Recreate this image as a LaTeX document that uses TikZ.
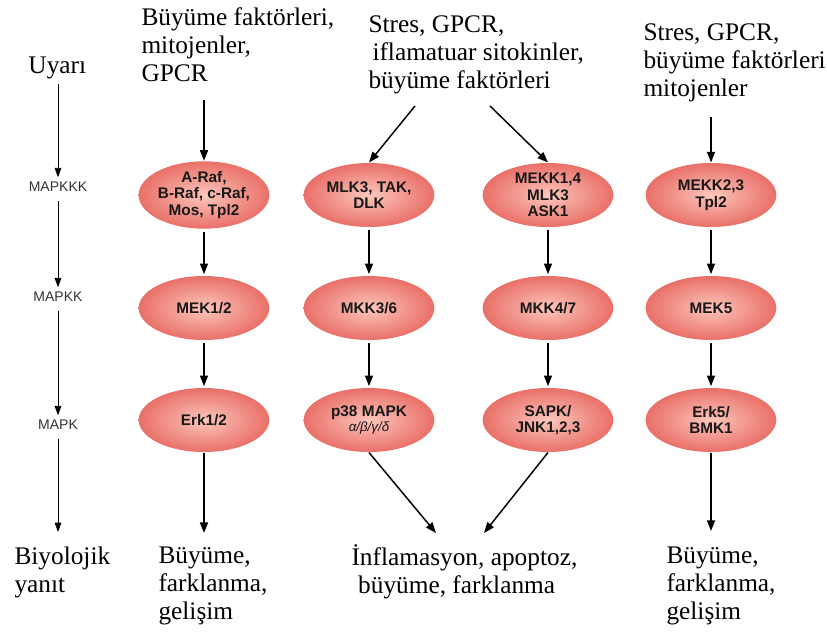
\documentclass[tikz,border=0pt]{standalone}
\usepackage{fontspec}
\setmainfont{Liberation Serif}
\setsansfont{Liberation Sans}
\usetikzlibrary{shapes.geometric,arrows.meta}

\definecolor{kinaseIn}{RGB}{252,198,188}
\definecolor{kinaseOut}{RGB}{233,112,104}

\tikzset{every picture/.style={line width=0.75pt}}
\tikzset{
  kinase/.style={ellipse, draw=none, inner color=kinaseIn, outer color=kinaseOut,
    minimum width=98pt, minimum height=48pt, inner sep=0pt, align=center,
    font=\sffamily\bfseries\fontsize{11.5}{12.5}\selectfont, text=black!90},
  level/.style={font=\sffamily\fontsize{10.5}{12}\selectfont, text=black!80},
  txt/.style={anchor=north west, inner sep=0.75pt, align=left,
    font=\fontsize{19}{21}\selectfont},
  thinarr/.style={-{Triangle[length=7pt,width=5pt]}, line width=0.6pt},
  arr/.style={-{Triangle[length=8pt,width=6pt]}, line width=1.1pt}
}

\begin{document}
\begin{tikzpicture}[x=0.75pt,y=0.75pt,yscale=-1,xscale=1]
    \path[use as bounding box] (0,0) rectangle (827,639);

    % Left column: levels
    \draw (27,55) node [txt] (uyari) {Uyarı};
    \draw (58,187) node [level] (mapkkk) {MAPKKK};
    \draw (58,297) node [level] (mapkk) {MAPKK};
    \draw (58,425) node [level] (mapk) {MAPK};
    \draw (13,545) node [txt] (yanit) {Biyolojik\\yanıt};
    \coordinate (lvlEnd) at (58,532);
    \draw [thinarr] (uyari.south -| mapkkk.north) ++(0,4) -- (mapkkk.north);
    \draw [thinarr] (mapkkk.south) ++(0,4) -- (mapkk.north);
    \draw [thinarr] (mapkk.south) ++(0,4) -- (mapk.north);
    \draw [thinarr] (mapk.south) ++(0,4) -- (lvlEnd);

    % Stimuli
    \draw (140,6) node [txt] (stimA) {Büyüme faktörleri,\\mitojenler,\\GPCR};
    \draw (367,14) node [txt] (stimB) {Stres, GPCR,\\\hspace{3pt}iflamatuar sitokinler,\\büyüme faktörleri};
    \draw (642,22) node [txt] (stimC) {Stres, GPCR,\\büyüme faktörleri\\mitojenler};

    % MAPKKK row
    \draw (204,195) node [kinase] (raf) {A-Raf,\\B-Raf, c-Raf,\\Mos, Tpl2};
    \draw (369,195) node [kinase] (mlk) {MLK3, TAK,\\DLK};
    \draw (548,195) node [kinase] (mekk14) {MEKK1,4\\MLK3\\ASK1};
    \draw (711,195) node [kinase] (mekk23) {MEKK2,3\\Tpl2};

    % MAPKK row
    \draw (204,308) node [kinase] (mek12) {MEK1/2};
    \draw (369,308) node [kinase] (mkk36) {MKK3/6};
    \draw (548,308) node [kinase] (mkk47) {MKK4/7};
    \draw (711,308) node [kinase] (mek5) {MEK5};

    % MAPK row
    \draw (204,420) node [kinase] (erk12) {Erk1/2};
    \draw (369,420) node [kinase] (p38) {p38 MAPK\\[-1pt]{\mdseries\itshape\fontsize{10}{11}\selectfont α/β/γ/δ}};
    \draw (548,420) node [kinase] (sapk) {SAPK/\\JNK1,2,3};
    \draw (711,420) node [kinase] (erk5) {Erk5/\\BMK1};

    % Responses
    \draw (157,545) node [txt] (respA) {Büyüme,\\farklanma,\\gelişim};
    \draw (350,543) node [txt] (respB) {İnflamasyon, apoptoz,\\\hspace{5pt}büyüme, farklanma};
    \draw (665,545) node [txt] (respC) {Büyüme,\\farklanma,\\gelişim};

    % Stimulus arrows
    \coordinate (sA) at (204,100);
    \coordinate (sB1) at (415,106);
    \coordinate (sB2) at (490,106);
    \coordinate (sC) at (711,117);
    \draw [arr] (sA) -- (raf.north);
    \draw [arr] (sB1) -- (mlk.north);
    \draw [arr] (sB2) -- (mekk14.north);
    \draw [arr] (sC) -- (mekk23.north);

    % Cascade arrows
    \foreach \a/\b in {raf/mek12,mlk/mkk36,mekk14/mkk47,mekk23/mek5,
                       mek12/erk12,mkk36/p38,mkk47/sapk,mek5/erk5}
      \draw [arr, shorten <=2pt, shorten >=1pt] (\a.south) -- (\b.north);

    % Response arrows
    \coordinate (eA) at (204,533);
    \coordinate (eB1) at (436,533);
    \coordinate (eB2) at (484,533);
    \coordinate (eC) at (711,531);
    \draw [arr, line width=1.4pt] (erk12.south) -- (eA);
    \draw [arr] (p38.south) -- (eB1);
    \draw [arr] (sapk.south) -- (eB2);
    \draw [arr] (erk5.south) -- (eC);
\end{tikzpicture}
\end{document}
